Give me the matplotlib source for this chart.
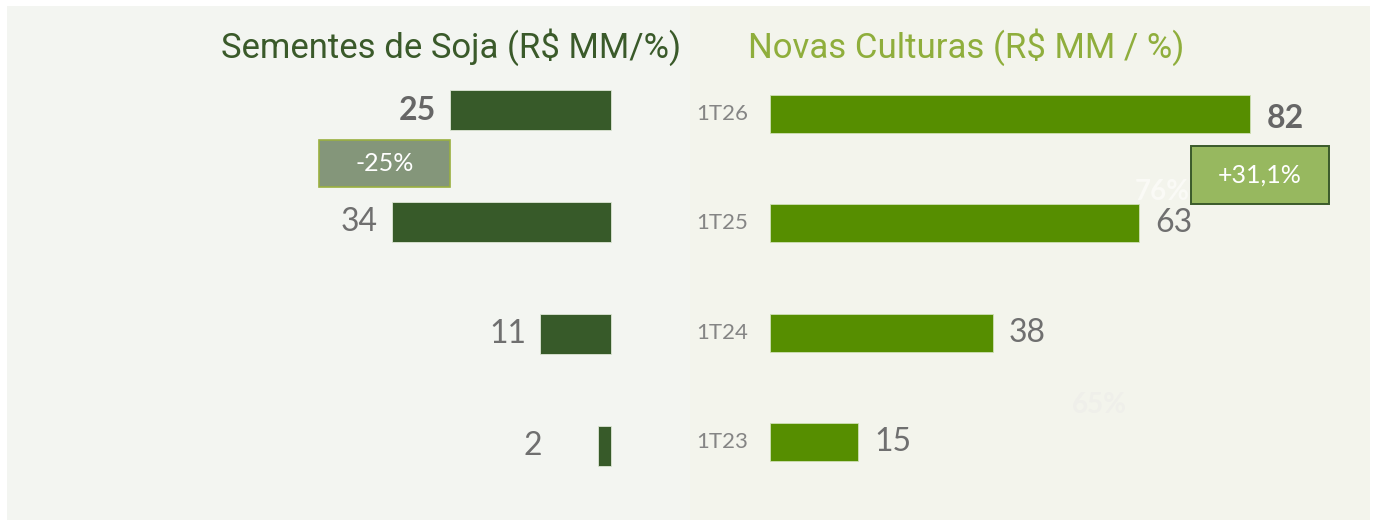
import matplotlib
matplotlib.use('Agg')
from matplotlib import pyplot as plt
from matplotlib.patches import Rectangle

# data
periods = ['1T23', '1T24', '1T25', '1T26']
soja = [2, 11, 34, 25]
culturas = [15, 38, 63, 82]
soja_var = '-25%'
culturas_var = '+31,1%'

W, H = 1379, 524
num_font = ['Lato', 'DejaVu Sans']
title_font = ['Roboto', 'DejaVu Sans']
grey = '#6f6f6f'

fig = plt.figure(figsize=(W / 100, H / 100), dpi=100)
fig.patch.set_facecolor('white')


def px_axes(x0, y0, x1, y1):
    return fig.add_axes([x0 / W, 1 - y1 / H, (x1 - x0) / W, (y1 - y0) / H])


y = list(range(len(periods)))

# left panel: Sementes de Soja
ax1 = px_axes(7, 6, 690, 520)
ax1.set_facecolor('#f3f5f1')
ax1.barh(y, [-v for v in soja], height=0.36, color='#375a29', edgecolor='#dde6d5', linewidth=0.6)
ax1.set_xlim(-93.6, 12.2)
ax1.set_ylim(-0.661, 3.929)
for i, v in enumerate(soja):
    last = i == len(soja) - 1
    ax1.annotate(str(v), (-max(v, 8.5), i), xytext=(-14, 0), textcoords='offset pixels',
                 ha='right', va='center', fontsize=23, color='#666666' if last else grey,
                 family=num_font, fontweight='bold' if last else 'normal')
ax1.add_patch(Rectangle((-45.3, 2.312), 20.3, 0.42, facecolor='#84967a', edgecolor='#9ab040', linewidth=1.2))
ax1.text(-35.15, 2.52, soja_var, ha='center', va='center', fontsize=18, color='white', family=num_font)

# right panel: Novas Culturas
ax2 = px_axes(690, 6, 1370, 520)
ax2.set_facecolor('#f3f4ec')
ax2.barh(y, culturas, height=0.35, color='#568e00', edgecolor='#cfe0b5', linewidth=0.6)
ax2.set_xlim(-13.65, 102.4)
ax2.set_ylim(-0.714, 3.988)
# faint ghost labels behind everything
ax2.text(62.3, 2.29, '76%', ha='left', va='center', fontsize=20, color='#fafaf6',
         fontweight='bold', family=num_font, zorder=1)
ax2.text(51.5, 0.34, '65%', ha='left', va='center', fontsize=20, color='#efefea',
         fontweight='bold', family=num_font, zorder=1)
for i, (p, v) in enumerate(zip(periods, culturas)):
    last = i == len(culturas) - 1
    ax2.text(-3.8, i, p, ha='right', va='center', fontsize=16, color='#858585',
             family=num_font, fontweight='normal')
    ax2.annotate(str(v), (v, i - (0.04 if last else 0)), xytext=(16, 0), textcoords='offset pixels',
                 ha='left', va='center', fontsize=23, color='#666666' if last else grey,
                 family=num_font, fontweight='bold' if last else 'normal', zorder=2)
ax2.add_patch(Rectangle((71.8, 2.177), 23.6, 0.53, facecolor='#97b85f', edgecolor='#3a5a2a',
                        linewidth=1.4, zorder=3))
ax2.text(83.6, 2.44, culturas_var, ha='center', va='center', fontsize=18, color='white',
         family=num_font, zorder=4)

for ax in (ax1, ax2):
    ax.set_xticks([])
    ax.set_yticks([])
    for s in ax.spines.values():
        s.set_visible(False)

fig.text(681 / W, 1 - 47 / H, 'Sementes de Soja (R$ MM/%)', ha='right', va='center',
         fontsize=25, color='#3a5a2a', family=title_font)
fig.text(748 / W, 1 - 47 / H, 'Novas Culturas (R$ MM / %)', ha='left', va='center',
         fontsize=25, color='#8fae3c', family=title_font)

fig.savefig('out.png', dpi=100, facecolor=fig.get_facecolor())
